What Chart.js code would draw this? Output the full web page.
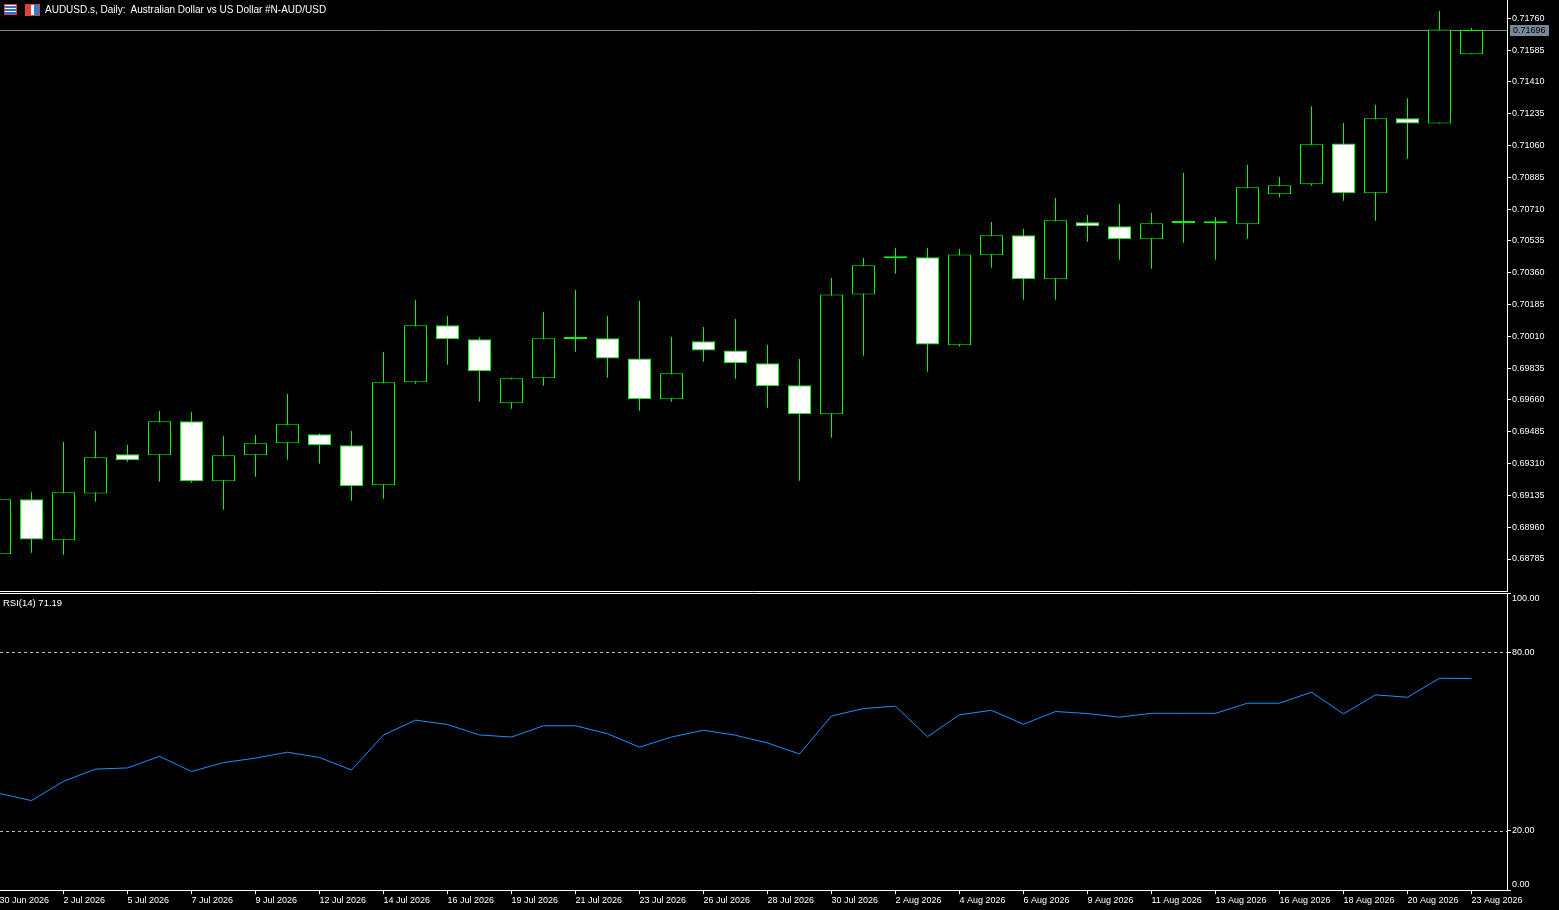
<!DOCTYPE html>
<html>
<head>
<meta charset="utf-8">
<title>AUDUSD.s Daily</title>
<script src="https://cdn.jsdelivr.net/npm/chart.js@4.4.1/dist/chart.umd.min.js"></script>
<style>
  html, body { margin: 0; padding: 0; background: #000; }
  body { width: 1559px; height: 910px; position: relative; overflow: hidden; font-family: "Liberation Sans", Arial, sans-serif; }
  #main { position: absolute; left: 0; top: 0; width: 1559px; height: 592px; }
  #rsi { position: absolute; left: 0; top: 580px; width: 1559px; height: 330px; }
  .txt { position: absolute; color: #fff; white-space: pre; line-height: 12px; }
  #title { left: 45px; top: 4px; font-size: 10px; }
  #rsiLabel { left: 3px; top: 597px; font-size: 9.5px; }
  #icon1 { position: absolute; left: 4px; top: 4px; width: 11px; height: 9px; border: 1px solid #e0403a;
           background: repeating-linear-gradient(to bottom, #fff 0 1px, #2b6fd6 1px 3px); }
  #icon2 { position: absolute; left: 25px; top: 4px; width: 13px; height: 10px; border: 1px solid #e0403a;
           background: linear-gradient(to right, #e0403a 0 35%, #fff 35% 60%, #2b7fd6 60%); }
</style>
</head>
<body>
<div id="icon1"></div>
<div id="icon2"></div>
<div id="main"><canvas id="mainChart"></canvas></div>
<div id="rsi"><canvas id="rsiChart"></canvas></div>
<div class="txt" id="title">AUDUSD.s, Daily:  Australian Dollar vs US Dollar #N-AUD/USD</div>
<div class="txt" id="rsiLabel"></div>
<script>
// datos (velas diarias)
const dates = ["30 Jun 2026", "1 Jul 2026", "2 Jul 2026", "3 Jul 2026", "5 Jul 2026", "6 Jul 2026", "7 Jul 2026", "8 Jul 2026",
  "9 Jul 2026", "10 Jul 2026", "12 Jul 2026", "13 Jul 2026", "14 Jul 2026", "15 Jul 2026", "16 Jul 2026", "17 Jul 2026",
  "19 Jul 2026", "20 Jul 2026", "21 Jul 2026", "22 Jul 2026", "23 Jul 2026", "24 Jul 2026", "26 Jul 2026", "27 Jul 2026",
  "28 Jul 2026", "29 Jul 2026", "30 Jul 2026", "31 Jul 2026", "2 Aug 2026", "3 Aug 2026", "4 Aug 2026", "5 Aug 2026",
  "6 Aug 2026", "7 Aug 2026", "9 Aug 2026", "10 Aug 2026", "11 Aug 2026", "12 Aug 2026", "13 Aug 2026", "14 Aug 2026",
  "16 Aug 2026", "17 Aug 2026", "18 Aug 2026", "19 Aug 2026", "20 Aug 2026", "21 Aug 2026", "23 Aug 2026"];

const opens = [0.68811, 0.69114, 0.68888, 0.69146, 0.69361, 0.69356, 0.69543, 0.69213, 0.69356, 0.69422, 0.69471, 0.69411,
  0.69191, 0.69757, 0.70071, 0.69994, 0.69642, 0.69779, 0.69996, 0.70000, 0.69889, 0.69664, 0.69983, 0.69933,
  0.69862, 0.69741, 0.69581, 0.70241, 0.70440, 0.70445, 0.69961, 0.70456, 0.70566, 0.70324, 0.70638, 0.70616,
  0.70544, 0.70634, 0.70632, 0.70627, 0.70792, 0.70847, 0.71072, 0.70797, 0.71210, 0.71182, 0.71562];
const highs = [0.69130, 0.69153, 0.69429, 0.69489, 0.69412, 0.69599, 0.69594, 0.69462, 0.69467, 0.69693, 0.69475, 0.69489,
  0.69924, 0.70210, 0.70122, 0.70005, 0.69782, 0.70144, 0.70265, 0.70122, 0.70205, 0.70007, 0.70062, 0.70106,
  0.69962, 0.69885, 0.70331, 0.70441, 0.70496, 0.70496, 0.70491, 0.70639, 0.70601, 0.70771, 0.70678, 0.70738,
  0.70689, 0.70909, 0.70667, 0.70953, 0.70887, 0.71277, 0.71184, 0.71283, 0.71321, 0.71800, 0.71707];
const lows = [0.68800, 0.68820, 0.68809, 0.69100, 0.69320, 0.69210, 0.69205, 0.69056, 0.69238, 0.69331, 0.69310, 0.69106,
  0.69117, 0.69750, 0.69854, 0.69651, 0.69612, 0.69739, 0.69926, 0.69783, 0.69601, 0.69651, 0.69871, 0.69777,
  0.69617, 0.69216, 0.69452, 0.69904, 0.70355, 0.69816, 0.69955, 0.70388, 0.70212, 0.70212, 0.70531, 0.70432,
  0.70382, 0.70525, 0.70432, 0.70547, 0.70775, 0.70839, 0.70756, 0.70646, 0.70987, 0.71182, 0.71562];
const closes = [0.69114, 0.68893, 0.69152, 0.69345, 0.69328, 0.69543, 0.69213, 0.69356, 0.69422, 0.69526, 0.69411, 0.69185,
  0.69757, 0.70071, 0.69994, 0.69818, 0.69779, 0.70000, 0.69998, 0.69889, 0.69664, 0.69807, 0.69933, 0.69862,
  0.69735, 0.69581, 0.70241, 0.70401, 0.70442, 0.69966, 0.70461, 0.70566, 0.70324, 0.70649, 0.70616, 0.70544,
  0.70632, 0.70636, 0.70632, 0.70830, 0.70841, 0.71067, 0.70797, 0.71210, 0.71182, 0.71699, 0.71696];

const rsi14 = [32.5, 30.1, 36.6, 40.7, 41.1, 45.0, 39.9, 42.9, 44.4, 46.4, 44.6, 40.4,
  52.2, 57.2, 55.7, 52.2, 51.5, 55.3, 55.3, 52.6, 48.1, 51.5, 53.8, 52.1,
  49.5, 45.8, 58.6, 61.1, 61.9, 51.6, 59.0, 60.5, 55.8, 60.1, 59.4, 58.2,
  59.5, 59.5, 59.5, 62.9, 62.9, 66.6, 59.3, 65.7, 64.9, 71.3, 71.19];

const priceTicks = [0.71760, 0.71585, 0.71410, 0.71235, 0.71060, 0.70885, 0.70710, 0.70535, 0.70360,
  0.70185, 0.70010, 0.69835, 0.69660, 0.69485, 0.69310, 0.69135, 0.68960, 0.68785];
const rsiTicks = [0, 20, 80, 100];
const rsiLevels = [20, 80];

const GREEN = "#00ff00";
const AXIS_W = 52;
const X_MIN = 0.015625;           // medio pixel para velas nitidas
const X_MAX = X_MIN + 1507 / 32;  // 32 px por vela

Chart.defaults.font.family = "'Liberation Sans', Arial, sans-serif";
Chart.defaults.font.size = 9;
Chart.defaults.color = "#fff";

const xScaleBase = { type: "linear", min: X_MIN, max: X_MAX, offset: false };

// linea de precio actual + marco inferior
const mainOverlay = {
  id: "mainOverlay",
  beforeDatasetsDraw(chart) {
    const { ctx, chartArea: a, scales: { y } } = chart;
    const py = Math.round(y.getPixelForValue(closes[closes.length - 1])) + 0.5;
    ctx.save();
    ctx.strokeStyle = "#778899";
    ctx.lineWidth = 1;
    ctx.beginPath(); ctx.moveTo(a.left, py); ctx.lineTo(a.right, py); ctx.stroke();
    ctx.restore();
  },
  afterDraw(chart) {
    const { ctx, chartArea: a, scales: { y } } = chart;
    const last = closes[closes.length - 1];
    const py = Math.round(y.getPixelForValue(last));
    ctx.save();
    ctx.strokeStyle = "#fff";
    ctx.lineWidth = 1;
    ctx.beginPath(); ctx.moveTo(a.left, a.bottom + 0.5); ctx.lineTo(a.right, a.bottom + 0.5); ctx.stroke();
    ctx.fillStyle = "#778899";
    ctx.fillRect(a.right + 3, py - 5, 39, 11);
    ctx.fillStyle = "#000";
    ctx.font = "9px 'Liberation Sans', Arial, sans-serif";
    ctx.textBaseline = "middle";
    ctx.fillText(last.toFixed(5), a.right + 6, py + 0.5);
    ctx.restore();
  }
};

new Chart(document.getElementById("mainChart"), {
  type: "bar",
  data: {
    datasets: [
      {
        label: "body",
        data: opens.map((o, i) => ({ x: i, y: [Math.min(o, closes[i]), Math.max(o, closes[i])] })),
        backgroundColor: opens.map((o, i) => (closes[i] < o ? "#ffffff" : "#000000")),
        borderColor: GREEN,
        borderWidth: 1,
        borderSkipped: false,
        barThickness: 23,
        minBarLength: 2,
        inflateAmount: 0,
        grouped: false,
        order: 0
      },
      {
        label: "wick",
        data: lows.map((l, i) => ({ x: i, y: [l, highs[i]] })),
        backgroundColor: GREEN,
        borderWidth: 0,
        barThickness: 1,
        inflateAmount: 0,
        grouped: false,
        order: 1
      }
    ]
  },
  options: {
    responsive: true,
    maintainAspectRatio: false,
    animation: false,
    devicePixelRatio: 1,
    events: [],
    layout: { padding: { top: 0, left: 0, right: 0, bottom: 1 } },
    plugins: { legend: { display: false }, tooltip: { enabled: false } },
    scales: {
      x: { ...xScaleBase, display: false },
      y: {
        position: "right",
        min: 0.68609,
        max: 0.71861,
        grid: { drawOnChartArea: false, color: "#fff", tickLength: 4 },
        border: { color: "#fff" },
        ticks: { color: "#fff", padding: 1, autoSkip: false, callback: v => Number(v).toFixed(5) },
        afterBuildTicks: s => { s.ticks = priceTicks.map(v => ({ value: v })); },
        afterFit: s => { s.width = AXIS_W; s.paddingTop = 0; s.paddingBottom = 0; }
      }
    }
  },
  plugins: [mainOverlay]
});

// niveles 20/80 y marco superior del RSI
const rsiOverlay = {
  id: "rsiOverlay",
  beforeDatasetsDraw(chart) {
    const { ctx, chartArea: a, scales: { y } } = chart;
    ctx.save();
    ctx.strokeStyle = "#fff";
    ctx.lineWidth = 1;
    ctx.beginPath(); ctx.moveTo(a.left, a.top + 0.5); ctx.lineTo(a.right, a.top + 0.5); ctx.stroke();
    ctx.strokeStyle = "#c0c0c0";
    ctx.setLineDash([3, 3]);
    rsiLevels.forEach(lv => {
      const py = Math.round(y.getPixelForValue(lv)) + 0.5;
      ctx.beginPath(); ctx.moveTo(a.left, py); ctx.lineTo(a.right, py); ctx.stroke();
    });
    ctx.restore();
  }
};

document.getElementById("rsiLabel").textContent = "RSI(14) " + rsi14[rsi14.length - 1].toFixed(2);

new Chart(document.getElementById("rsiChart"), {
  type: "line",
  data: {
    datasets: [{
      label: "RSI(14)",
      data: rsi14.map((v, i) => ({ x: i, y: v })),
      borderColor: "#1e90ff",
      borderWidth: 1,
      pointRadius: 0,
      tension: 0
    }]
  },
  options: {
    responsive: true,
    maintainAspectRatio: false,
    animation: false,
    devicePixelRatio: 1,
    events: [],
    layout: { padding: { top: 13, left: 0, right: 0, bottom: 0 } },
    plugins: { legend: { display: false }, tooltip: { enabled: false } },
    scales: {
      x: {
        ...xScaleBase,
        grid: { drawOnChartArea: false, color: "#fff", tickLength: 4 },
        border: { color: "#fff" },
        ticks: { color: "#fff", align: "start", padding: 1, autoSkip: false, maxRotation: 0, minRotation: 0,
                 callback: v => dates[v] },
        afterBuildTicks: s => { s.ticks = dates.map((d, i) => i).filter(i => i % 2 === 0).map(v => ({ value: v })); },
        afterFit: s => { s.height = 20; s.paddingLeft = 0; s.paddingRight = 0; }
      },
      y: {
        position: "right",
        min: 0,
        max: 100,
        grid: { drawOnChartArea: false, color: "#fff", tickLength: 4 },
        border: { color: "#fff" },
        ticks: {
          color: "#fff", padding: 1, autoSkip: false,
          callback: v => (v === 100 ? ["", "100.00"] : v === 0 ? ["0.00", ""] : Number(v).toFixed(2))
        },
        afterBuildTicks: s => { s.ticks = rsiTicks.map(v => ({ value: v })); },
        afterFit: s => { s.width = AXIS_W; s.paddingTop = 0; s.paddingBottom = 0; }
      }
    }
  },
  plugins: [rsiOverlay]
});
</script>
</body>
</html>
